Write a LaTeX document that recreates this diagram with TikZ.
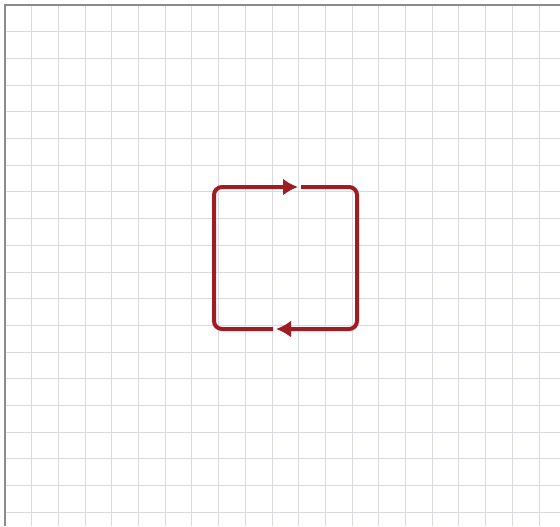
\documentclass[tikz,border=0pt]{standalone}
\usetikzlibrary{arrows.meta}
\definecolor{loopred}{HTML}{9E1C22}
\definecolor{gridgray}{HTML}{D8DADF}
\definecolor{framegray}{HTML}{8C8C8C}
\begin{document}
\begin{tikzpicture}[
  x=0.5pt, y=-0.5pt,
  gridline/.style={draw=gridgray, line width=0.5pt},
  frameline/.style={draw=framegray, line width=1.2pt},
  loop/.style={draw=loopred, line width=2pt, rounded corners=4pt,
               -{Latex[length=7.5pt,width=8.5pt]}}
]
\useasboundingbox[fill=white] (0,0) rectangle (560,526);
% grid
\foreach \k in {1,...,20} {
  \draw[gridline] ({5+26.7*\k},5) -- ({5+26.7*\k},526);
}
\foreach \k in {1,...,19} {
  \draw[gridline] (5,{5+26.7*\k}) -- (560,{5+26.7*\k});
}
\draw[frameline] (5,526) -- (5,5) -- (560,5);
% corners of the loop
\coordinate (tl) at (214,187);
\coordinate (tr) at (357,187);
\coordinate (br) at (357,329);
\coordinate (bl) at (214,329);
\coordinate (topin) at (301,187);
\coordinate (toptip) at (298,187);
\coordinate (botin) at (273,329);
\coordinate (bottip) at (276,329);
% the two halves of the loop
\draw[loop] (topin) -- (tr) -- (br) -- (bottip);
\draw[loop] (botin) -- (bl) -- (tl) -- (toptip);
\end{tikzpicture}
\end{document}
